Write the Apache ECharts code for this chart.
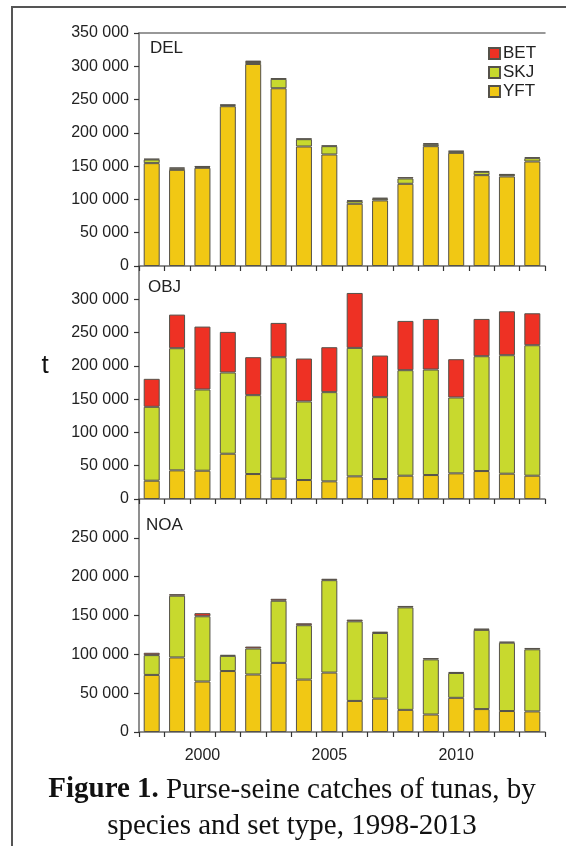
<!DOCTYPE html>
<html><head><meta charset="utf-8">
<script src="https://cdn.jsdelivr.net/npm/echarts@6/dist/echarts.min.js"></script>
<style>html,body{margin:0;padding:0;background:#fff}#c{width:566px;height:846px}</style>
</head><body><div id="c"></div>
<script>
const years = ['1998','1999','2000','2001','2002','2003','2004','2005','2006','2007','2008','2009','2010','2011','2012','2013'];
const panels = ['DEL','OBJ','NOA'];
const delYFT = [154500,144500,147500,240000,303500,267000,179500,167500,93500,98500,123500,180000,170000,136500,134500,157000];
const delSKJ = [5500,2000,1500,1500,3000,14000,11000,12500,4000,2500,8000,3000,2000,5000,2500,5000];
const delBET = [1000,1500,1000,1000,2000,1000,1000,1000,1000,1500,2000,1500,1000,1000,1000,1500];
const objYFT = [27500,43000,42500,68000,37500,30500,28500,26500,34000,30000,35000,36000,38500,42000,38000,35000];
const objSKJ = [111000,183500,122000,122000,118500,182500,118000,134000,193000,123000,158500,158500,114000,172500,178000,196000];
const objBET = [42000,50500,94500,61000,57000,51500,64500,67500,82500,62500,74000,76000,57500,56000,66000,48000];
const noaYFT = [73500,96000,65000,78500,74000,89000,67500,76500,40000,43000,28500,22500,44000,29500,27000,26500];
const noaSKJ = [25500,79500,84000,19500,33500,80000,70000,119000,102500,84500,132000,71000,32000,102000,88000,80000];
const noaBET = [3000,2000,4000,1300,2500,2500,2500,1800,2200,1700,1800,1700,1300,1700,1300,1700];
const yMax = [350000, 350000, 300000];
const yInterval = 50000;

const colors = {YFT:'#F1C814', SKJ:'#C8D92E', BET:'#EE3124'};
const sans = '"Liberation Sans", Arial, sans-serif';
const serif = '"Liberation Serif", "Times New Roman", serif';
const fmt = v => String(v).replace(/\B(?=(\d{3})+(?!\d))/g, ' ');

const gridTops = [33, 266, 499];
const grid = gridTops.map(t => ({left:139, right:21, top:t, height:233}));

const xAxis = gridTops.map((t, i) => ({
  type:'category', gridIndex:i, data:years,
  axisLine:{lineStyle:{color:'#6a6a6a', width:1.5}},
  axisTick:{show:true, interval:0, length:5, lineStyle:{color:'#333', width:1.2}},
  axisLabel:{show:i===2, margin:16, fontFamily:sans, fontSize:16, color:'#222',
    interval:(idx, val) => Number(val) % 5 === 0}
}));
xAxis.push({type:'category', gridIndex:0, position:'top', data:years,
  axisLine:{lineStyle:{color:'#777', width:1.5}}, axisTick:{show:false}, axisLabel:{show:false}});

const yAxis = gridTops.map((t, i) => ({
  type:'value', gridIndex:i, min:0, max:yMax[i], interval:yInterval,
  axisLine:{show:true, lineStyle:{color:'#6a6a6a', width:1.5}},
  axisTick:{show:true, length:5, lineStyle:{color:'#333', width:1.2}},
  splitLine:{show:false},
  axisLabel:{margin:10, fontFamily:sans, fontSize:16, color:'#222', showMaxLabel:i===0, formatter:fmt}
}));

const sets = [[delYFT,delSKJ,delBET],[objYFT,objSKJ,objBET],[noaYFT,noaSKJ,noaBET]];
const series = [];
sets.forEach((s, i) => {
  [['YFT',s[0]],['SKJ',s[1]],['BET',s[2]]].forEach(([name, data]) => {
    series.push({type:'bar', name, xAxisIndex:i, yAxisIndex:i, stack:'p'+i, data,
      barWidth:16, itemStyle:{color:colors[name], borderColor:'#55524a', borderWidth:1},
      emphasis:{disabled:true}, silent:true});
  });
});

const labelPos = [[150,48],[148,287],[146,525]];
const graphic = [
  {type:'polyline', shape:{points:[[12,846],[12,7],[566,7]]}, style:{stroke:'#555', lineWidth:2, fill:null}},
  {type:'text', x:45, y:366, style:{text:'t', font:'26px ' + sans, fill:'#111', align:'center', verticalAlign:'middle'}},
  {type:'text', x:292, y:790, style:{text:'{b|Figure 1.} Purse-seine catches of tunas, by', font:'29px ' + serif, fill:'#111', align:'center', verticalAlign:'middle',
    rich:{b:{fontWeight:'bold', fontFamily:serif, fontSize:29, fill:'#111'}}}},
  {type:'text', x:292, y:826, style:{text:'species and set type, 1998-2013', font:'29px ' + serif, fill:'#111', align:'center', verticalAlign:'middle'}}
];
panels.forEach((p, i) => graphic.push({type:'text', x:labelPos[i][0], y:labelPos[i][1],
  style:{text:p, font:'17px ' + sans, fill:'#222', align:'left', verticalAlign:'middle'}}));

const chart = echarts.init(document.getElementById('c'));
chart.setOption({
  animation:false,
  grid, xAxis, yAxis, series, graphic,
  legend:{data:['BET','SKJ','YFT'], orient:'vertical', left:483, top:40, itemWidth:11, itemHeight:11, itemGap:2,
    icon:'rect', selectedMode:false, textStyle:{fontFamily:sans, fontSize:17, color:'#222', padding:[0,0,0,-2]}}
});
</script></body></html>
